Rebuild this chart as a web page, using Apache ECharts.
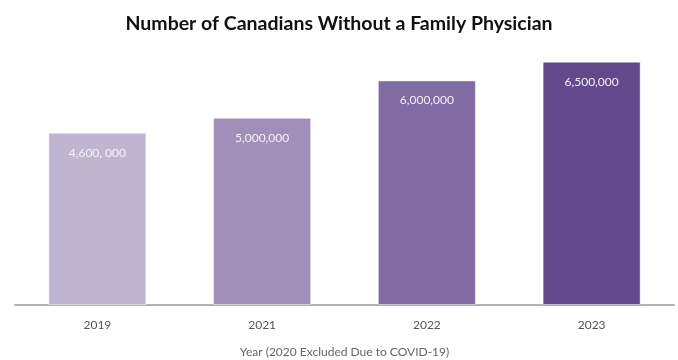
<!DOCTYPE html>
<html>
<head>
<meta charset="utf-8">
<script src="https://cdn.jsdelivr.net/npm/echarts@6/dist/echarts.min.js"></script>
<style>
  html, body { margin: 0; padding: 0; background: #ffffff; }
  #chart { width: 678px; height: 360px; }
</style>
</head>
<body>
<div id="chart"></div>
<script>
// Canadians without a family physician, by year
const years = ['2019', '2021', '2022', '2023'];
const counts = [4600000, 5000000, 6000000, 6500000];
const valueLabels = ['4,600, 000', '5,000,000', '6,000,000', '6,500,000'];
const barColors = ['#bfb5d1', '#a08fb9', '#806ba4', '#63488b'];

const chart = echarts.init(document.getElementById('chart'));

chart.setOption({
  animation: false,
  title: {
    text: 'Number of Canadians Without a Family Physician',
    left: 'center',
    top: 9,
    textStyle: {
      fontFamily: 'Lato',
      fontWeight: 'bold',
      fontSize: 19.5,
      color: '#111111'
    }
  },
  grid: { left: 15, right: 4, top: 43, bottom: 55, containLabel: false, outerBoundsMode: 'none' },
  xAxis: {
    type: 'category',
    data: years,
    name: 'Year (2020 Excluded Due to COVID-19)',
    nameLocation: 'middle',
    nameGap: 41,
    nameTextStyle: { fontFamily: 'Lato', fontSize: 12, color: '#666666' },
    axisLine: { lineStyle: { color: '#b3b3b3', width: 2 } },
    axisTick: { show: false },
    axisLabel: { margin: 14, fontFamily: 'Lato', fontSize: 12, color: '#555555' }
  },
  yAxis: {
    type: 'value',
    min: 0,
    max: 7000000,
    show: false,
    splitLine: { show: false }
  },
  series: [{
    type: 'bar',
    barWidth: 98,
    data: counts.map((v, i) => ({
      value: v,
      itemStyle: { color: barColors[i], borderColor: 'rgba(255,255,255,0.45)', borderWidth: 1 }
    })),
    label: {
      show: true,
      position: 'insideTop',
      distance: 14,
      fontFamily: 'Lato',
      fontSize: 12,
      color: '#f4f1f8',
      formatter: p => valueLabels[p.dataIndex]
    }
  }]
});
</script>
</body>
</html>
